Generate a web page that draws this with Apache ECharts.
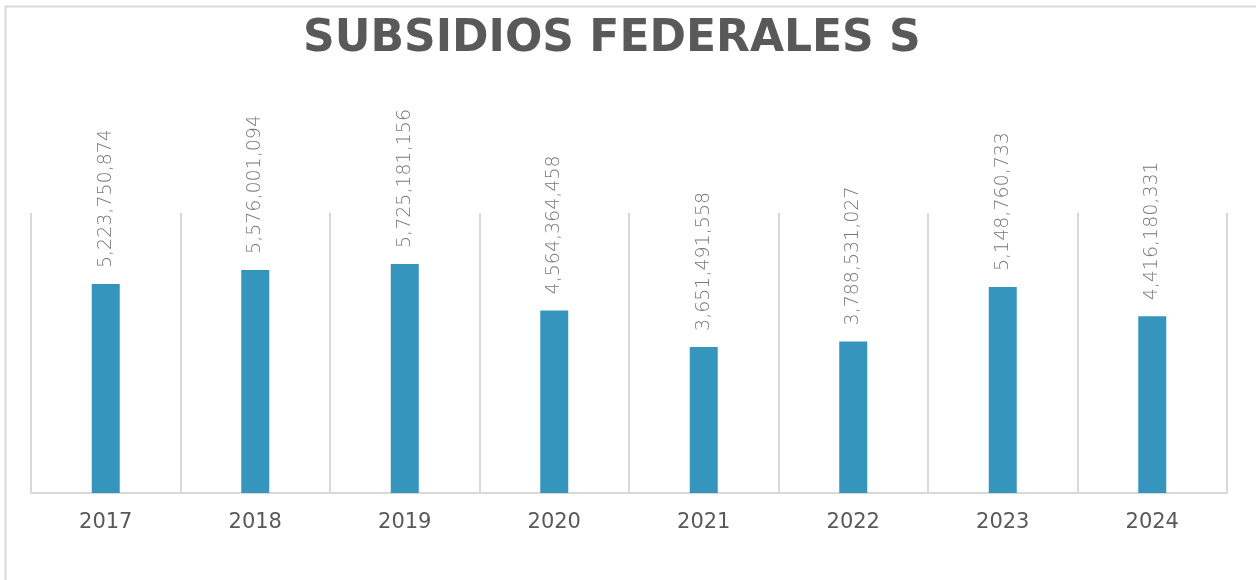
<!DOCTYPE html>
<html>
<head>
<meta charset="utf-8">
<script src="https://cdn.jsdelivr.net/npm/echarts@6/dist/echarts.min.js"></script>
<style>
  html, body { margin: 0; padding: 0; background: #fff; }
  #chart { width: 1256px; height: 580px; }
</style>
</head>
<body>
<div id="chart"></div>
<script>
const years = ['2017', '2018', '2019', '2020', '2021', '2022', '2023', '2024'];
const subsidios = [5223750874, 5576001094, 5725181156, 4564364458, 3651491558, 3788531027, 5148760733, 4416180331];

const chart = echarts.init(document.getElementById('chart'));

// formato con comas, como en la hoja original
const fmt = v => String(v).replace(/\B(?=(\d{3})+(?!\d))/g, ',');

chart.setOption({
  animation: false,
  title: {
    text: 'SUBSIDIOS FEDERALES S',
    left: 298,
    top: 13,
    textStyle: {
      fontFamily: 'DejaVu Sans',
      fontWeight: 'bold',
      fontSize: 44,
      color: '#595959'
    }
  },
  graphic: [
    { type: 'line', shape: { x1: 5, y1: 6.5, x2: 1256, y2: 6.5 }, style: { stroke: '#d9d9d9', lineWidth: 2 } },
    { type: 'line', shape: { x1: 5.5, y1: 6, x2: 5.5, y2: 580 }, style: { stroke: '#d9d9d9', lineWidth: 2 } }
  ],
  grid: { left: 31, right: 29, top: 213, bottom: 87 },
  xAxis: {
    type: 'category',
    data: years,
    axisLine: { lineStyle: { color: '#d9d9d9', width: 2 } },
    axisTick: { show: false },
    splitLine: { show: true, lineStyle: { color: '#d9d9d9', width: 2 } },
    axisLabel: {
      margin: 19,
      fontFamily: 'DejaVu Sans',
      fontSize: 21,
      color: '#595959'
    }
  },
  yAxis: {
    type: 'value',
    min: 0,
    max: 7000000000,
    show: false
  },
  series: [{
    type: 'bar',
    data: subsidios,
    barWidth: 28,
    itemStyle: { color: '#3595bc' },
    label: {
      show: true,
      position: 'top',
      rotate: 90,
      align: 'left',
      verticalAlign: 'middle',
      distance: 16,
      formatter: p => fmt(p.value),
      fontFamily: 'DejaVu Sans',
      fontWeight: 300,
      fontSize: 19,
      color: '#777777'
    }
  }]
});
</script>
</body>
</html>
